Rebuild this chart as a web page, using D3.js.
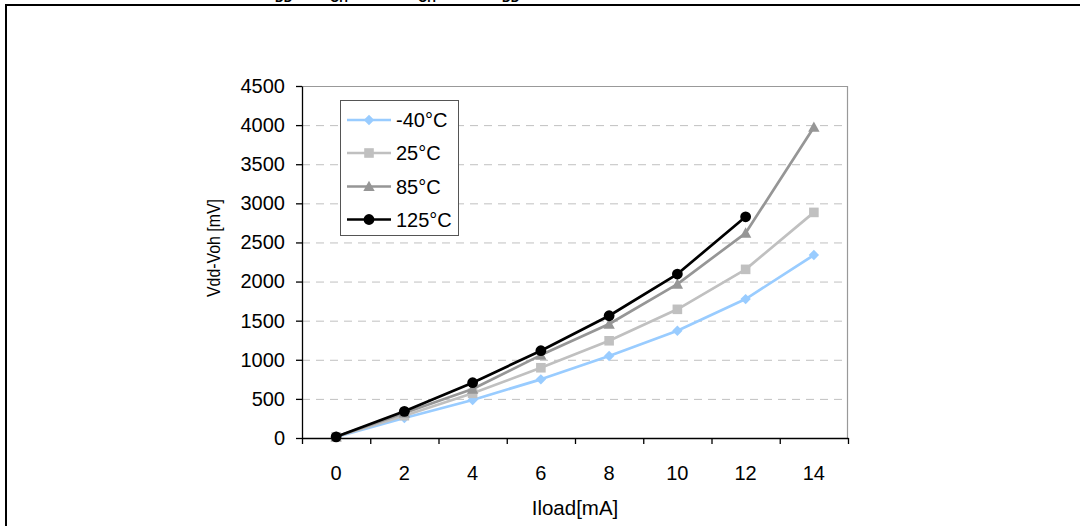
<!DOCTYPE html>
<html>
<head>
<meta charset="utf-8">
<script src="https://cdn.jsdelivr.net/npm/d3@7"></script>
<style>
  html, body { margin: 0; padding: 0; background: #fff; }
  svg { display: block; font-family: "Liberation Sans", Arial, sans-serif; }
</style>
</head>
<body>
<svg id="chart" width="1080" height="526"></svg>
<script>
// ---- data ----
const categories = ["0", "2", "4", "6", "8", "10", "12", "14"];
const seriesNames = ["-40°C", "25°C", "85°C", "125°C"];
const valuesM40 = [15, 256, 486, 750, 1048, 1371, 1776, 2339];
const values25  = [15, 285, 571, 898, 1243, 1645, 2156, 2884];
const values85  = [15, 320, 626, 1060, 1457, 1968, 2620, 3974];
const values125 = [15, 341, 707, 1116, 1563, 2096, 2828, null];
const yTicks = [0, 500, 1000, 1500, 2000, 2500, 3000, 3500, 4000, 4500];
const xTitle = "Iload[mA]";
const yTitle = "Vdd-Voh [mV]";

const series = [
  { name: seriesNames[0], values: valuesM40, color: "#99ccff", marker: "diamond" },
  { name: seriesNames[1], values: values25,  color: "#c0c0c0", marker: "square" },
  { name: seriesNames[2], values: values85,  color: "#969696", marker: "triangle" },
  { name: seriesNames[3], values: values125, color: "#000000", marker: "circle" }
];

const FONT = "Liberation Sans, Arial, sans-serif";
const svg = d3.select("#chart");

// ---- outer frame & cut-off title ----
svg.append("rect").attr("x", 6).attr("y", 5).attr("width", 1100).attr("height", 560)
  .attr("fill", "none").attr("stroke", "#000").attr("stroke-width", 2);

const titleG = svg.append("g").attr("font-weight", "bold").attr("fill", "#000");
const tParts = [
  { t: "Figure 20. Typical V", x: 275, y: -3.5, size: 17, anchor: "end" },
  { t: "DD", x: 275, y: 1.5, size: 12, anchor: "start" },
  { t: " - V", x: 330, y: -3.5, size: 17, anchor: "end" },
  { t: "OH", x: 330, y: 1.5, size: 12, anchor: "start" },
  { t: " vs. I", x: 418, y: -3.5, size: 17, anchor: "end" },
  { t: "OH", x: 418, y: 1.5, size: 12, anchor: "start" },
  { t: " @ V", x: 502, y: -3.5, size: 17, anchor: "end" },
  { t: "DD", x: 502, y: 1.5, size: 12, anchor: "start" },
  { t: " = 5 V (high-side)", x: 527, y: -3.5, size: 17, anchor: "start" }
];
tParts.forEach(p => titleG.append("text").attr("x", p.x).attr("y", p.y)
  .attr("font-size", p.size).attr("text-anchor", p.anchor).text(p.t));

// ---- scales ----
const x = d3.scaleBand().domain(categories).range([302, 848]).paddingInner(0).paddingOuter(0);
const xc = c => x(c) + x.bandwidth() / 2;
const xEdge = d3.scaleLinear().domain([0, categories.length]).range([302, 848]);
const y = d3.scaleLinear().domain([0, 4500]).range([438, 86]);

// ---- gridlines ----
svg.append("g").selectAll("line").data(yTicks.filter(v => v > 0 && v < 4500)).join("line")
  .attr("x1", 302).attr("x2", 848)
  .attr("y1", d => y(d) + 0.5).attr("y2", d => y(d) + 0.5)
  .attr("stroke", "#c0c0c0").attr("stroke-width", 1).attr("stroke-dasharray", "8,6");

// plot border top/right
svg.append("path")
  .attr("d", `M302,${y(4500) + 0.5}H${847.5}V438`)
  .attr("fill", "none").attr("stroke", "#999").attr("stroke-width", 1.2);

// ---- axes ----
const yAxis = svg.append("g").attr("transform", "translate(302,0)")
  .call(d3.axisLeft(y).tickValues(yTicks).tickFormat(d3.format("d")).tickSize(6).tickPadding(11).tickSizeOuter(0));
yAxis.selectAll("text").attr("font-size", 20).attr("fill", "#000").attr("font-family", FONT);
yAxis.selectAll("line, path").attr("stroke", "#000").attr("stroke-width", 1.3);

const xAxisLabels = svg.append("g").attr("transform", "translate(0,438)")
  .call(d3.axisBottom(x).tickSize(0).tickPadding(28));
xAxisLabels.select("path").remove();
xAxisLabels.selectAll("text").attr("font-size", 20).attr("fill", "#000").attr("font-family", FONT);

const xAxisTicks = svg.append("g").attr("transform", "translate(0,438)")
  .call(d3.axisBottom(xEdge).tickValues(d3.range(categories.length + 1))
    .tickFormat("").tickSize(6).tickSizeOuter(0));
xAxisTicks.selectAll("line, path").attr("stroke", "#000").attr("stroke-width", 1.3);

// axis titles
svg.append("text").attr("x", 575).attr("y", 515).attr("text-anchor", "middle")
  .attr("font-size", 20.5).text(xTitle);
svg.append("text").attr("transform", "translate(220,248) rotate(-90)").attr("text-anchor", "middle")
  .attr("font-size", 18).attr("textLength", 98).attr("lengthAdjust", "spacingAndGlyphs").text(yTitle);

// ---- markers ----
function markerPath(type) {
  if (type === "diamond") return "M0,-5.2L5.2,0L0,5.2L-5.2,0Z";
  if (type === "square") return "M-4.8,-4.8H4.8V4.8H-4.8Z";
  if (type === "triangle") return "M0,-5.7L5.7,4.6H-5.7Z";
  return d3.symbol().type(d3.symbolCircle).size(Math.PI * 5.4 * 5.4)();
}

// ---- series ----
const line = d3.line().defined(d => d.v !== null).x(d => xc(d.c)).y(d => y(d.v));
series.forEach(s => {
  const pts = categories.map((c, i) => ({ c, v: s.values[i] }));
  const g = svg.append("g");
  g.append("path").datum(pts).attr("d", line)
    .attr("fill", "none").attr("stroke", s.color).attr("stroke-width", 2.7).attr("stroke-linejoin", "round");
  g.selectAll("path.m").data(pts.filter(d => d.v !== null)).join("path").attr("class", "m")
    .attr("transform", d => `translate(${xc(d.c)},${y(d.v)})`)
    .attr("d", markerPath(s.marker)).attr("fill", s.color);
});

// ---- legend ----
const lg = svg.append("g");
lg.append("rect").attr("x", 340.5).attr("y", 100.5).attr("width", 118).attr("height", 135)
  .attr("fill", "#fff").attr("stroke", "#555").attr("stroke-width", 1);
const legendY = [120, 153, 186.5, 219.5];
series.forEach((s, i) => {
  const ly = legendY[i];
  lg.append("line").attr("x1", 347).attr("x2", 391).attr("y1", ly).attr("y2", ly)
    .attr("stroke", s.color).attr("stroke-width", 2.7);
  lg.append("path").attr("transform", `translate(369,${ly})`).attr("d", markerPath(s.marker)).attr("fill", s.color);
  lg.append("text").attr("x", 396).attr("y", ly + 7).attr("font-size", 20).text(s.name);
});
</script>
</body>
</html>
